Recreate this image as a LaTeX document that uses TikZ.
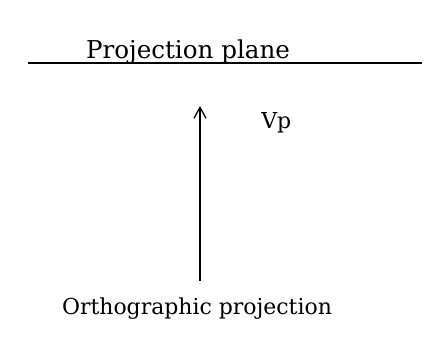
\documentclass[tikz,border=0pt]{standalone}
\usepackage{fontspec}
\setmainfont{DejaVu Serif}
\usetikzlibrary{arrows.meta,positioning}

\begin{document}
\begin{tikzpicture}[
    x=0.02cm,y=-0.02cm,
    label/.style={inner sep=0pt,anchor=base,font=\fontsize{12.5}{15}\selectfont},
    arrow/.style={-{Straight Barb[length=2.2mm,width=2.4mm]},line width=0.7pt}
  ]
    \useasboundingbox (0,0) rectangle (423,351);
    \node[label,font=\fontsize{14}{16}\selectfont] (plane) at (188,59) {Projection plane};
    \draw[line width=0.8pt] (28,63) coordinate (left) -- (422,63) coordinate (right);
    \node[label] (ortho) at (197,315) {Orthographic projection};
    \node[label,anchor=base west] (vp) at (261,129) {Vp};
    \coordinate (foot) at (200,281);
    \coordinate (tip) at (200,106);
    \draw[arrow] (foot) -- (tip);
  \end{tikzpicture}
\end{document}
